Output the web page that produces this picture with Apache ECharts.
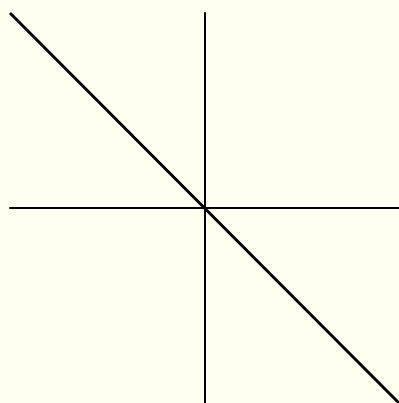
<!doctype html>
<html lang="en">
<head>
    <meta charset="UTF-8">
    <title>Line</title>
    <style>
        html, body { margin: 0; padding: 0; background: #fffff0; }
        #main { width: 399px; height: 403px; }
    </style>
    <script src="https://cdnjs.cloudflare.com/ajax/libs/echarts/6.0.0/echarts.min.js"></script>
</head>
<body>
    <div id="main"></div>
    <script>
        // y = -x, sampled at the two ends
        var xValues = [-1, 1];
        var yValues = [1, -1];

        window.onload = function () {
            var myChart = echarts.init(document.getElementById('main'));
            var points = [];
            for (var i = 0; i < xValues.length; i++) {
                points.push([xValues[i], yValues[i]]);
            }
            var axisCommon = {
                type: 'value',
                min: -1,
                max: 1,
                axisLine: { onZero: true, lineStyle: { color: '#000', width: 2 } },
                axisTick: { show: false },
                axisLabel: { show: false },
                splitLine: { show: false }
            };
            var option = {
                backgroundColor: '#fffff0',
                animation: false,
                grid: { left: 10, right: 0, top: 13, bottom: 0 },
                xAxis: axisCommon,
                yAxis: axisCommon,
                series: [
                    {
                        type: 'line',
                        data: points,
                        showSymbol: false,
                        lineStyle: { color: '#000', width: 3 }
                    }
                ]
            };
            myChart.setOption(option);
        };
    </script>
</body>
</html>
